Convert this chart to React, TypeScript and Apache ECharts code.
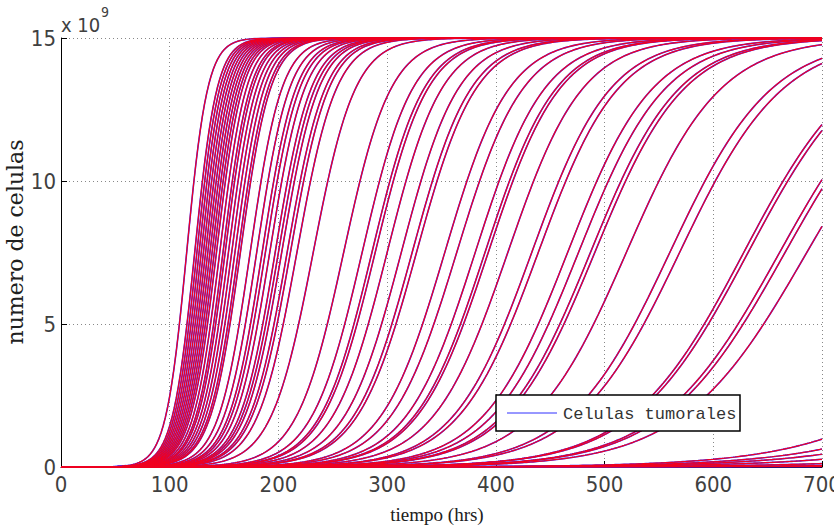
import React, { useEffect, useRef } from "react";
import * as echarts from "echarts";

// Carrying capacity (cells) and log(K/N0 - 1) shared by all trajectories
const capacity = 15e9;
const logInitialRatio = 12;

// Time (hrs) at which each simulated trajectory reaches half capacity
const midpointHours = [
  115.6, 123, 125, 127, 129, 131, 133, 135, 137, 139, 141, 143, 146, 149, 151,
  154, 157, 160, 163, 165, 174, 180, 185, 188, 192, 197, 200, 203, 208, 211,
  217, 232, 260, 277, 286, 289, 300, 313, 323, 327, 353, 364, 381, 390, 393,
  411, 433, 439, 466, 476, 487, 491, 520, 560, 569, 628, 632, 661, 666, 686,
  900, 947, 986, 1050, 1170, 1333, 1500, 1650,
];

const xTicks = [0, 100, 200, 300, 400, 500, 600, 700];
const yTickLabels = ["0", "5", "10", "15"];
const timeStep = 2;
const timeMax = 700;

const legendLabel = "Celulas tumorales";
const xLabel = "tiempo (hrs)";
const yLabel = "numero de celulas";

function trajectory(mid: number): [number, number][] {
  const r = logInitialRatio / mid;
  const pts: [number, number][] = [];
  for (let t = 0; t <= timeMax; t += timeStep) {
    pts.push([t, capacity / (1 + Math.exp(-r * (t - mid)))]);
  }
  return pts;
}

const tickFont = "'Liberation Sans Narrow', 'DejaVu Sans Condensed', 'Roboto', sans-serif";

export default function App() {
  const ref = useRef<HTMLDivElement>(null);
  useEffect(() => {
    if (!ref.current) return;
    const chart = echarts.init(ref.current, undefined, { renderer: "svg" });
    const curves = midpointHours.map(trajectory);
    const blue = curves.map((d, i) => ({
      type: "line",
      name: i === 0 ? legendLabel : "blue" + i,
      data: d,
      showSymbol: false,
      silent: true,
      lineStyle: { color: "#3a2aff", width: 1.6 },
      z: 2,
    }));
    const red = curves.map((d, i) => ({
      type: "line",
      name: "red" + i,
      data: d,
      showSymbol: false,
      silent: true,
      lineStyle: { color: "#f00020", width: 1.2 },
      z: 3,
    }));
    chart.setOption({
      animation: false,
      backgroundColor: "#ffffff",
      grid: { left: 61, right: 12, top: 38, bottom: 60, containLabel: false, outerBoundsMode: "none" },
      xAxis: {
        type: "value",
        min: 0,
        max: 700,
        interval: 100,
        axisLine: { show: true, lineStyle: { color: "#000", width: 1 } },
        axisTick: { show: true, inside: true, length: 6, lineStyle: { color: "#000" } },
        axisLabel: {
          color: "#404040",
          fontSize: 22,
          fontFamily: tickFont,
          margin: 6,
          showMaxLabel: true,
          hideOverlap: false,
          formatter: (v: number) => (xTicks.includes(v) ? String(v) : ""),
        },
        splitLine: { show: true, lineStyle: { color: "#888", type: [1, 3], width: 1 } },
      },
      yAxis: {
        type: "value",
        min: 0,
        max: 15e9,
        interval: 5e9,
        axisLine: { show: true, lineStyle: { color: "#000", width: 1 } },
        axisTick: { show: true, inside: true, length: 6, lineStyle: { color: "#000" } },
        axisLabel: {
          color: "#404040",
          fontSize: 22,
          fontFamily: tickFont,
          margin: 5,
          formatter: (v: number) => yTickLabels[Math.round(v / 5e9)] ?? "",
        },
        splitLine: { show: true, lineStyle: { color: "#888", type: [1, 3], width: 1 } },
      },
      series: [...blue, ...red],
      graphic: [
        {
          type: "text",
          x: 61,
          y: 25,
          style: { text: "x 10", fill: "#404040", font: "20px " + tickFont, verticalAlign: "middle" },
        },
        {
          type: "text",
          x: 101,
          y: 12,
          style: { text: "9", fill: "#404040", font: "14px " + tickFont, verticalAlign: "middle" },
        },
        {
          type: "text",
          x: 437,
          y: 514,
          style: {
            text: xLabel,
            fill: "#202020",
            font: "19px 'Liberation Serif', serif",
            align: "center",
            verticalAlign: "middle",
          },
        },
        {
          type: "text",
          x: 15,
          y: 242,
          rotation: Math.PI / 2,
          style: {
            text: yLabel,
            fill: "#202020",
            font: "22px 'DejaVu Serif', serif",
            align: "center",
            verticalAlign: "middle",
          },
        },
        {
          type: "rect",
          shape: { x: 496, y: 395, width: 244, height: 36 },
          style: { fill: "#fff", stroke: "#000", lineWidth: 1.5 },
          z: 100,
        },
        {
          type: "line",
          shape: { x1: 507, y1: 413, x2: 557, y2: 413 },
          style: { stroke: "#3030ff", lineWidth: 1 },
          z: 101,
        },
        {
          type: "text",
          x: 563,
          y: 414,
          style: {
            text: legendLabel,
            fill: "#333",
            font: "17px 'Liberation Mono', 'DejaVu Sans Mono', monospace",
            verticalAlign: "middle",
          },
          z: 101,
        },
      ],
    });
    return () => chart.dispose();
  }, []);
  return (
    <div
      ref={ref}
      style={{ position: "fixed", left: 0, top: 0, width: 834, height: 527 }}
    />
  );
}
